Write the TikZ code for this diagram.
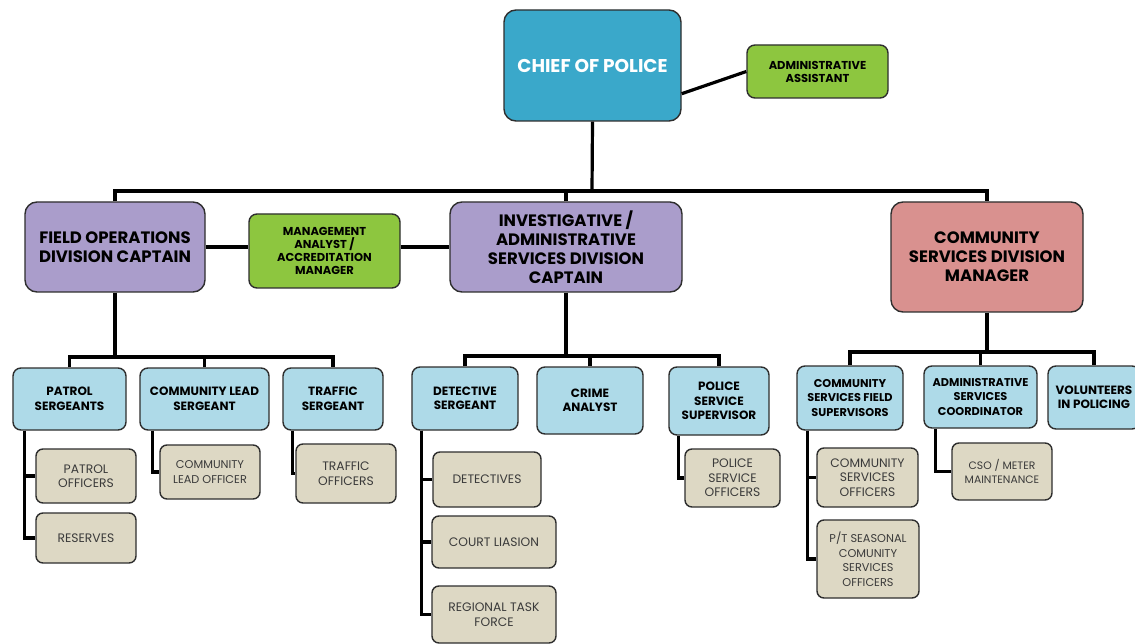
\documentclass[tikz,border=0pt]{standalone}
\usepackage{fontspec}
\setmainfont{Poppins}
\usetikzlibrary{calc}

\definecolor{chiefblue}{HTML}{3AA8CA}
\definecolor{assistgreen}{HTML}{8DC63F}
\definecolor{captpurple}{HTML}{AA9DCB}
\definecolor{mgrred}{HTML}{D9918F}
\definecolor{unitblue}{HTML}{AEDAE8}
\definecolor{stafftan}{HTML}{DDD8C4}
\definecolor{edge}{HTML}{2E2E2E}
\definecolor{stafftext}{HTML}{3A3A3A}

\tikzset{
  box/.style={draw=edge, line width=1.4pt, align=center, inner sep=0pt, text=black},
  chiefbox/.style={box, fill=chiefblue, rounded corners=12pt, text=white,
    font=\bfseries\fontsize{18.5}{22}\selectfont},
  greenbox/.style={box, fill=assistgreen, rounded corners=8pt,
    font=\bfseries\fontsize{11.5}{13}\selectfont},
  captbox/.style={box, fill=captpurple, rounded corners=12pt,
    font=\bfseries\fontsize{16.5}{19}\selectfont},
  mgrbox/.style={box, fill=mgrred, rounded corners=12pt,
    font=\bfseries\fontsize{16.5}{19}\selectfont},
  unitbox/.style={box, fill=unitblue, rounded corners=8pt,
    font=\bfseries\fontsize{12}{14.5}\selectfont},
  staffbox/.style={box, fill=stafftan, rounded corners=7pt, text=stafftext,
    font=\fontsize{12.3}{14.5}\selectfont},
  conn/.style={draw=black, line width=3.2pt},
}

\begin{document}
\begin{tikzpicture}[x=1pt, y=-1pt]
\useasboundingbox (0,0) rectangle (1135,644);
\clip (0,0) rectangle (1135,644);
\fill[white] (0,0) rectangle (1135,644);

% ---- top level ----
\node[chiefbox, minimum width=177, minimum height=111] (chief) at (592.5,65.5) {CHIEF OF POLICE};
\node[greenbox, minimum width=141, minimum height=53] (assist) at (817.5,71.5) {ADMINISTRATIVE\\ASSISTANT};

% ---- divisions ----
\node[greenbox, minimum width=151, minimum height=74] (mgmt) at (324.5,251) {MANAGEMENT\\ANALYST /\\ACCREDITATION\\MANAGER};
\node[captbox, minimum width=180, minimum height=90] (fod) at (115,247) {FIELD OPERATIONS\\DIVISION CAPTAIN};
\node[captbox, minimum width=232, minimum height=90] (inv) at (566,247) {INVESTIGATIVE /\\ADMINISTRATIVE\\SERVICES DIVISION\\CAPTAIN};
\node[mgrbox, minimum width=192, minimum height=110] (csd) at (987,257) {COMMUNITY\\SERVICES DIVISION\\MANAGER};

% ---- field operations ----
\node[unitbox, minimum width=113, minimum height=62] (patsgt) at (69.5,399) {PATROL\\SERGEANTS};
\node[unitbox, minimum width=129, minimum height=62] (clsgt) at (204.5,399) {COMMUNITY LEAD\\SERGEANT};
\node[unitbox, minimum width=100, minimum height=62] (trsgt) at (333,399) {TRAFFIC\\SERGEANT};
\node[staffbox, minimum width=100, minimum height=54] (patoff) at (86,476) {PATROL\\OFFICERS};
\node[staffbox, minimum width=100, minimum height=50] (reserves) at (86,538) {RESERVES};
\node[staffbox, minimum width=100, minimum height=54, font=\fontsize{11.3}{14.5}\selectfont] (cloff) at (210,472) {COMMUNITY\\LEAD OFFICER};
\node[staffbox, minimum width=100, minimum height=59] (troff) at (346,473.5) {TRAFFIC\\OFFICERS};

% ---- investigative / administrative ----
\node[unitbox, minimum width=106, minimum height=63] (detsgt) at (465,398.5) {DETECTIVE\\SERGEANT};
\node[unitbox, minimum width=106, minimum height=67] (crime) at (590,400.5) {CRIME\\ANALYST};
\node[unitbox, minimum width=100, minimum height=68] (pss) at (719,401) {POLICE\\SERVICE\\SUPERVISOR};
\node[staffbox, minimum width=108, minimum height=55] (dets) at (487,479.5) {DETECTIVES};
\node[staffbox, minimum width=124, minimum height=52] (court) at (494,542) {COURT LIASION};
\node[staffbox, minimum width=124, minimum height=57] (rtf) at (494,614.5) {REGIONAL TASK\\FORCE};
\node[staffbox, minimum width=95, minimum height=58] (pso) at (732.5,478) {POLICE\\SERVICE\\OFFICERS};

% ---- community services ----
\node[unitbox, minimum width=106, minimum height=64, font=\bfseries\fontsize{11.3}{14.5}\selectfont] (csfs) at (850,398) {COMMUNITY\\SERVICES FIELD\\SUPERVISORS};
\node[unitbox, minimum width=113, minimum height=62, font=\bfseries\fontsize{11.3}{14.5}\selectfont] (asc) at (980.5,397) {ADMINISTRATIVE\\SERVICES\\COORDINATOR};
\node[unitbox, minimum width=92, minimum height=63] (vip) at (1094,397.5) {VOLUNTEERS\\IN POLICING};
\node[staffbox, minimum width=101, minimum height=59] (cso) at (867.5,477.5) {COMMUNITY\\SERVICES\\OFFICERS};
\node[staffbox, minimum width=102, minimum height=78, font=\fontsize{11.3}{14.5}\selectfont] (ptcso) at (868,559) {P/T SEASONAL\\COMUNITY\\SERVICES\\OFFICERS};
\node[staffbox, minimum width=100, minimum height=57, font=\fontsize{10.8}{14.5}\selectfont] (meter) at (1002,471.5) {CSO / METER\\MAINTENANCE};

% ---- connectors: top ----
\coordinate (topbus) at (592,191);
\draw[conn] ($(chief.south east)+(0,-28)$) -- (assist.west);
\draw[conn] (chief.south) -- (topbus);
\draw[conn] (fod.north) |- (topbus) -| (csd.north);
\draw[conn] (inv.north) -- (inv.north |- topbus);
\draw[conn] (fod.east) -- (fod.east -| mgmt.west);
\draw[conn] (mgmt.east |- inv.west) -- (inv.west);

% ---- connectors: field operations ----
\coordinate (fodbus) at (115,357);
\draw[conn] (fod.south) -- (fodbus);
\draw[conn] (patsgt.north) |- (fodbus) -| (trsgt.north);
\draw[conn] (clsgt.north) -- (clsgt.north |- fodbus);
\coordinate (patline) at ($(patsgt.south west)+(12,0)$);
\draw[conn] (patline) |- (patoff.west);
\draw[conn] (patline) |- (reserves.west);
\draw[conn] ($(clsgt.south west)+(13,0)$) |- (cloff.west);
\draw[conn] ($(trsgt.south west)+(10,0)$) |- (troff.west);

% ---- connectors: investigative / administrative ----
\coordinate (invbus) at (566,356);
\draw[conn] (inv.south) -- (invbus);
\draw[conn] (detsgt.north) |- (invbus) -| (pss.north);
\draw[conn] (crime.north) -- (crime.north |- invbus);
\coordinate (detline) at ($(detsgt.south west)+(10,0)$);
\draw[conn] (detline) |- (dets.west);
\draw[conn] (detline) |- (court.west);
\draw[conn] (detline) |- (rtf.west);
\draw[conn] ($(pss.south west)+(10,0)$) |- (pso.west);

% ---- connectors: community services ----
\coordinate (csdbus) at (987,352);
\draw[conn] (csd.south) -- (csdbus);
\draw[conn] (csfs.north) |- (csdbus) -| (vip.north);
\draw[conn] (asc.north) -- (asc.north |- csdbus);
\coordinate (csfsline) at ($(csfs.south west)+(11,0)$);
\draw[conn] (csfsline) |- (cso.west);
\draw[conn] (csfsline) |- (ptcso.west);
\draw[conn] ($(asc.south west)+(12,0)$) |- (meter.west);
\end{tikzpicture}
\end{document}
